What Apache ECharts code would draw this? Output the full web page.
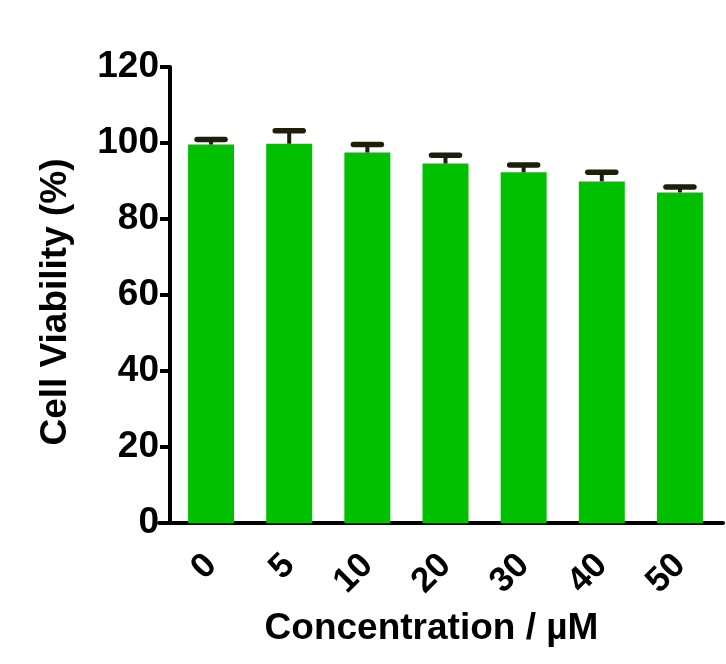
<!DOCTYPE html>
<html><head><meta charset="utf-8">
<script src="https://cdn.jsdelivr.net/npm/echarts@6/dist/echarts.min.js"></script>
<style>html,body{margin:0;padding:0;background:#fff}#c{width:726px;height:664px}</style>
</head><body><div id="c"></div>
<script>
const categories = ['0', '5', '10', '20', '30', '40', '50'];
const viability = [99.6, 99.8, 97.5, 94.6, 92.3, 89.9, 87.0];
const errors = [1.3, 3.4, 2.1, 2.2, 1.9, 2.4, 1.4];
const yTicks = [0, 20, 40, 60, 80, 100, 120];

const FONT = 'Arial, "Liberation Sans", sans-serif';
const chart = echarts.init(document.getElementById('c'));
chart.setOption({
  backgroundColor: '#ffffff',
  animation: false,
  grid: [
    { left: 172, right: 7, top: 67, bottom: 141 },
    { left: 159, right: 3, top: 67, bottom: 141 }
  ],
  xAxis: [{
    type: 'category', data: categories, gridIndex: 0,
    axisLine: { lineStyle: { color: '#000', width: 4 } },
    axisTick: { alignWithLabel: true, length: 13, lineStyle: { color: '#000', width: 4 } },
    axisLabel: { rotate: 45, color: '#000', fontSize: 35, fontWeight: 'bold', fontFamily: FONT, margin: 37 },
    name: 'Concentration / µM', nameLocation: 'middle', nameGap: 87,
    nameTextStyle: { color: '#000', fontSize: 37, fontWeight: 'bold', fontFamily: FONT, padding: [0, 28, 0, 0] }
  }, {
    type: 'value', gridIndex: 1, min: 0, max: 1,
    axisLine: { show: true, lineStyle: { color: '#000', width: 4 } },
    axisTick: { show: false }, axisLabel: { show: false }, splitLine: { show: false }
  }],
  yAxis: [{
    type: 'value', gridIndex: 0, min: yTicks[0], max: yTicks[yTicks.length - 1], interval: 20,
    offset: 2,
    axisLine: { show: true, lineStyle: { color: '#000', width: 4 } },
    axisTick: { show: true, length: 10, lineStyle: { color: '#000', width: 4 } },
    axisLabel: { color: '#000', fontSize: 37, fontWeight: 'bold', fontFamily: FONT, margin: 11 },
    splitLine: { show: false },
    name: 'Cell Viability (%)', nameLocation: 'middle', nameGap: 96,
    nameTextStyle: { color: '#000', fontSize: 37, fontWeight: 'bold', fontFamily: FONT, padding: [0, 14, 0, 0] }
  }, {
    type: 'value', gridIndex: 1, show: false
  }],
  series: [{
    type: 'bar', data: viability, barWidth: 46, xAxisIndex: 0, yAxisIndex: 0,
    itemStyle: { color: '#00c000' }
  }, {
    type: 'custom', xAxisIndex: 0, yAxisIndex: 0,
    data: categories.map((c, i) => [i, viability[i], viability[i] + errors[i]]),
    renderItem: function (params, api) {
      const base = api.coord([api.value(0), api.value(1)]);
      const top = api.coord([api.value(0), api.value(2)]);
      const hw = 14;
      return {
        type: 'group',
        children: [
          { type: 'line', shape: { x1: base[0], y1: base[1], x2: top[0], y2: top[1] },
            style: { stroke: '#1e1e0a', lineWidth: 4 } },
          { type: 'line', shape: { x1: top[0] - hw, y1: top[1], x2: top[0] + hw, y2: top[1] },
            style: { stroke: '#1e1e0a', lineWidth: 5.5, lineCap: 'round' } }
        ]
      };
    },
    z: 3
  }]
});
</script></body></html>
